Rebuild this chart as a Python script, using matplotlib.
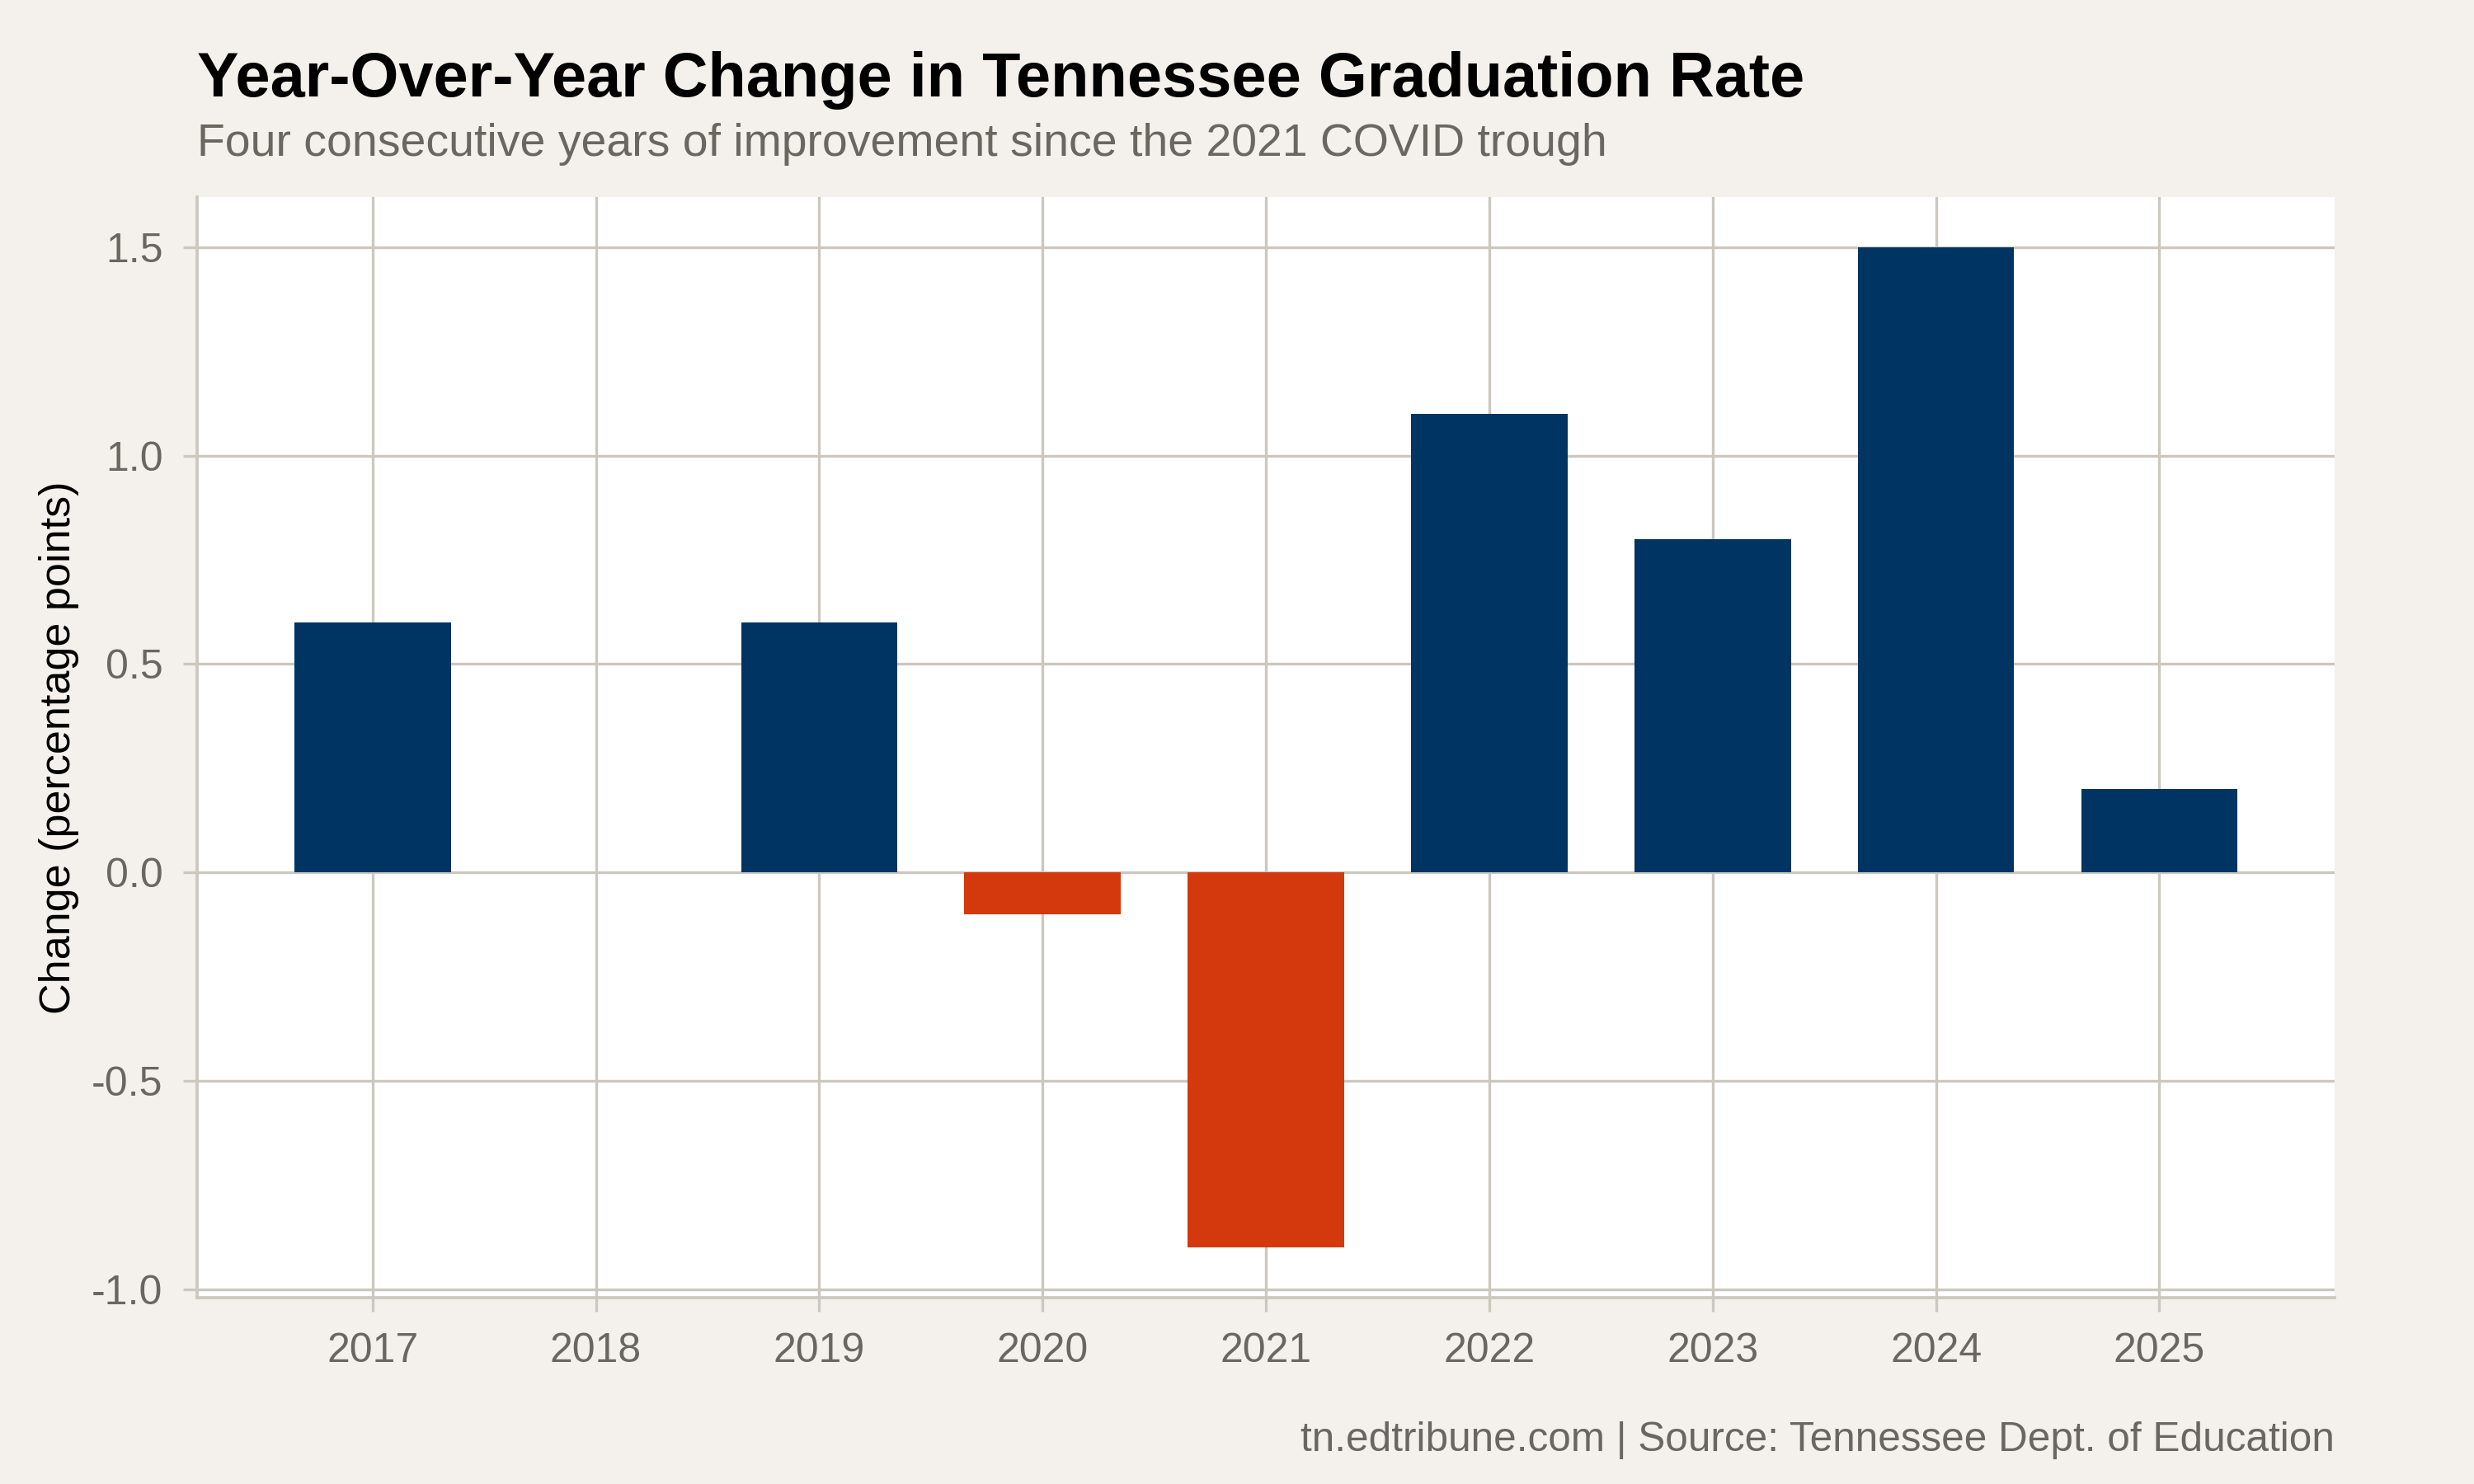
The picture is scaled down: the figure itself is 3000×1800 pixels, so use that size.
import matplotlib
matplotlib.use("Agg")
import matplotlib.pyplot as plt

# data
years = [2017, 2018, 2019, 2020, 2021, 2022, 2023, 2024, 2025]
change = [0.6, 0.0, 0.6, -0.1, -0.9, 1.1, 0.8, 1.5, 0.2]
yticks = [-1.0, -0.5, 0.0, 0.5, 1.0, 1.5]

navy = "#003462"
red = "#d4380d"
bg = "#f4f1ec"
grid = "#cdc8bf"
gray = "#6b6660"

plt.rcParams["font.family"] = ["Liberation Sans", "DejaVu Sans"]

fig = plt.figure(figsize=(10, 6), dpi=300, facecolor=bg)
ax = fig.add_axes([0.0797, 0.1256, 0.864, 0.7416])
ax.set_facecolor("white")

colors = [navy if v >= 0 else red for v in change]
ax.bar(years, change, width=0.7, color=colors, zorder=3)

ax.set_xlim(2016.215, 2025.785)
ax.set_ylim(-1.02, 1.62)
ax.set_xticks(years)
ax.set_xticklabels([str(y) for y in years])
ax.set_yticks(yticks)
ax.set_yticklabels([f"{t:.1f}" for t in yticks])

ax.grid(True, color=grid, linewidth=0.8, zorder=0)
ax.set_axisbelow(True)
for s in ["top", "right"]:
    ax.spines[s].set_visible(False)
for s in ["left", "bottom"]:
    ax.spines[s].set_color(grid)
    ax.spines[s].set_linewidth(0.9)
ax.tick_params(axis="both", colors=grid, length=4, width=0.8, labelsize=12,
               labelcolor=gray, pad=6)

fig.text(0.0237, 0.1256 + 0.7416 / 2, "Change (percentage points)", rotation=90,
         ha="center", va="center", fontsize=12.5, color="black")

fig.text(0.0797, 0.935, "Year-Over-Year Change in Tennessee Graduation Rate",
         fontsize=18.2, fontweight="bold", color="black", ha="left", va="baseline")
fig.text(0.0797, 0.895, "Four consecutive years of improvement since the 2021 COVID trough",
         fontsize=13.3, color=gray, ha="left", va="baseline")
fig.text(0.9437, 0.0222, "tn.edtribune.com | Source: Tennessee Dept. of Education",
         fontsize=11.9, color=gray, ha="right", va="baseline")

fig.savefig("out.png", dpi=300, facecolor=bg)
